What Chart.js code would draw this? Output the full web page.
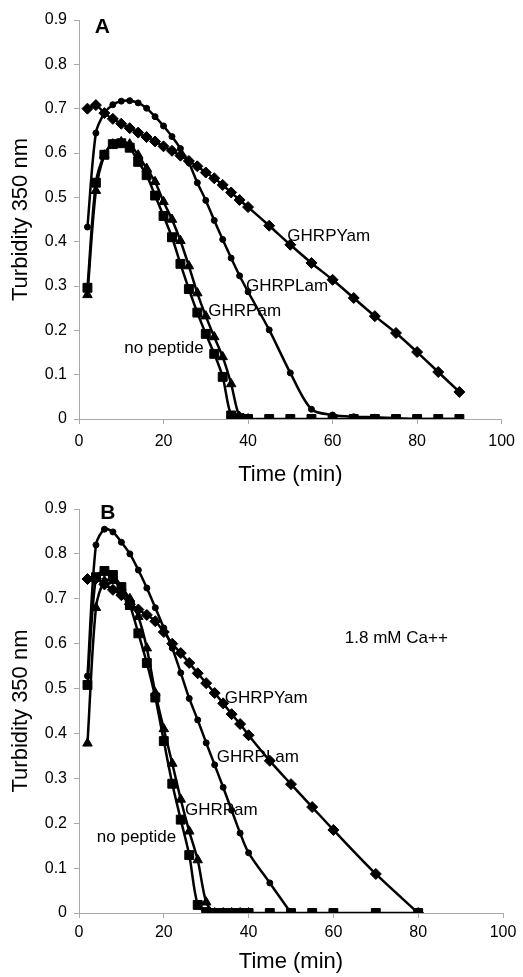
<!DOCTYPE html>
<html>
<head>
<meta charset="utf-8">
<script src="https://cdn.jsdelivr.net/npm/chart.js@4.4.1/dist/chart.umd.min.js"></script>
<style>
  body { margin: 0; background: #fff; }
  canvas { position: absolute; left: 0; }
</style>
</head>
<body>
<canvas id="chartA" width="523" height="488" style="top:0"></canvas>
<canvas id="chartB" width="523" height="489" style="top:488px"></canvas>
<script>
// tick labels
const xTicks = [0, 20, 40, 60, 80, 100];
const yTicks = [0, 0.1, 0.2, 0.3, 0.4, 0.5, 0.6, 0.7, 0.8, 0.9];

// panel A - time (min) and turbidity at 350 nm
const aYamTime = [2,4,6,8,10,12,14,16,18,20,22,24,26,28,30,32,34,36,38,40,45,50,55,60,65,70,75,80,85,90];
const aYamVal = [0.700,0.708,0.690,0.677,0.666,0.656,0.646,0.636,0.626,0.615,0.605,0.594,0.582,0.570,0.556,0.543,0.528,0.511,0.494,0.478,0.436,0.393,0.352,0.314,0.273,0.232,0.194,0.151,0.106,0.061];
const aLamTime = [2,4,6,8,10,12,14,16,18,20,22,24,26,28,30,32,34,36,38,40,45,50,55,60,65,70,75,80,85,90];
const aLamVal = [0.433,0.645,0.690,0.709,0.717,0.718,0.713,0.701,0.682,0.661,0.637,0.610,0.578,0.533,0.493,0.448,0.405,0.363,0.323,0.287,0.201,0.104,0.022,0.009,0.005,0.004,0.002,0,0,0];
const aPamTime = [2,4,6,8,10,12,14,16,18,20,22,24,26,28,30,32,34,36,38,40];
const aPamVal = [0.280,0.515,0.595,0.620,0.625,0.620,0.595,0.565,0.535,0.490,0.450,0.402,0.345,0.284,0.232,0.185,0.140,0.079,0.005,0];
const aNoneTime = [2,4,6,8,10,12,14,16,18,20,22,24,26,28,30,32,34,36,38,40,45,50,55,60,65,70,75,80,85,90];
const aNoneVal = [0.296,0.533,0.596,0.620,0.622,0.612,0.580,0.550,0.504,0.458,0.410,0.350,0.293,0.240,0.192,0.147,0.095,0.008,0.002,0,0,0,0,0,0,0,0,0,0,0];

// panel B - 1.8 mM Ca++
const bYamTime = [2,4,6,8,10,12,14,16,18,20,22,24,26,28,30,32,34,36,38,40,45,50,55,60,70,80];
const bYamVal = [0.744,0.745,0.732,0.720,0.708,0.688,0.676,0.664,0.650,0.626,0.600,0.579,0.557,0.534,0.512,0.490,0.467,0.443,0.421,0.396,0.339,0.287,0.236,0.185,0.087,0];
const bLamTime = [2,4,6,8,10,12,14,16,18,20,22,24,26,28,30,32,34,36,38,40,45,50];
const bLamVal = [0.528,0.820,0.855,0.849,0.826,0.800,0.764,0.724,0.680,0.635,0.590,0.535,0.478,0.430,0.379,0.330,0.280,0.229,0.178,0.134,0.067,0];
const bPamTime = [2,4,6,8,10,12,14,16,18,20,22,24,26,28,30,32,34,36,38,40];
const bPamVal = [0.378,0.680,0.740,0.740,0.725,0.700,0.660,0.590,0.490,0.410,0.333,0.253,0.182,0.118,0.024,0,0,0,0,0];
const bNoneTime = [2,4,6,8,10,12,14,16,18,20,22,24,26,28,30,32,34,36,38,40,45,50,55,60,70,80];
const bNoneVal = [0.508,0.748,0.762,0.753,0.726,0.686,0.623,0.557,0.480,0.383,0.288,0.208,0.129,0.018,0.002,0,0,0,0,0,0,0,0,0,0,0];

const FONT = '"Liberation Sans", Arial, Helvetica, sans-serif';

function pts(times, vals) {
    return times.map((t, i) => ({ x: t, y: vals[i] }));
}

function series(times, vals, style, radius) {
    return {
        data: pts(times, vals),
        borderColor: '#000',
        backgroundColor: '#000',
        borderWidth: 2.5,
        pointStyle: style,
        pointRadius: radius,
        pointBorderWidth: 1,
        pointBackgroundColor: '#000',
        pointBorderColor: '#000',
        tension: 0.3,
        fill: false
    };
}

// text inside the plot, placed in data units
function textPlugin(items) {
    return {
        id: 'panelText',
        afterDatasetsDraw(chart) {
            const ctx = chart.ctx;
            const x = chart.scales.x, y = chart.scales.y;
            ctx.save();
            ctx.fillStyle = '#000';
            ctx.textAlign = 'left';
            ctx.textBaseline = 'middle';
            items.forEach(it => {
                ctx.font = (it.bold ? 'bold ' : '') + it.size + 'px ' + FONT;
                ctx.fillText(it.text, x.getPixelForValue(it.t), y.getPixelForValue(it.v));
            });
            ctx.restore();
        }
    };
}

function makePanel(id, datasets, cfg) {
    new Chart(document.getElementById(id), {
        type: 'line',
        data: { datasets: datasets },
        plugins: [textPlugin(cfg.labels)],
        options: {
            responsive: false,
            animation: false,
            events: [],
            layout: { padding: { top: cfg.top, right: cfg.right, left: 0, bottom: 0 } },
            plugins: { legend: { display: false }, tooltip: { enabled: false } },
            scales: {
                x: {
                    type: 'linear',
                    min: 0, max: 100,
                    afterBuildTicks: s => { s.ticks = xTicks.map(v => ({ value: v })); },
                    afterFit: s => { s.height = cfg.xHeight; },
                    grid: { drawOnChartArea: false, tickLength: 5, color: '#aaa' },
                    border: { color: '#aaa', width: 1 },
                    ticks: { color: '#000', padding: cfg.xPad, font: { family: FONT, size: 16 } },
                    title: {
                        display: true, text: 'Time (min)', color: '#000',
                        font: { family: FONT, size: 22 },
                        padding: { top: 0, bottom: cfg.titlePad }
                    }
                },
                y: {
                    min: 0, max: 0.9,
                    afterBuildTicks: s => { s.ticks = yTicks.map(v => ({ value: v })); },
                    afterFit: s => { s.width = 79; },
                    grid: { drawOnChartArea: false, tickLength: 5, color: '#aaa' },
                    border: { color: '#aaa', width: 1 },
                    ticks: {
                        color: '#000', padding: 7,
                        font: { family: FONT, size: 16 },
                        callback: v => v === 0 ? '0' : v.toFixed(1)
                    },
                    title: {
                        display: true, text: 'Turbidity 350 nm', color: '#000',
                        font: { family: FONT, size: 22 },
                        padding: { top: 8, bottom: 0 }
                    }
                }
            }
        }
    });
}

makePanel('chartA', [
    series(aYamTime, aYamVal, 'rectRot', 5.5),
    series(aLamTime, aLamVal, 'circle', 3),
    series(aPamTime, aPamVal, 'triangle', 5.5),
    series(aNoneTime, aNoneVal, 'rect', 6.3)
], {
    top: 20, right: 16, xHeight: 69, xPad: 8, titlePad: 0,
    labels: [
        { text: 'A', t: 3.7, v: 0.883, size: 21, bold: true },
        { text: 'GHRPYam', t: 49.3, v: 0.411, size: 17 },
        { text: 'GHRPLam', t: 39.5, v: 0.300, size: 17 },
        { text: 'GHRPam', t: 30.6, v: 0.242, size: 17 },
        { text: 'no peptide', t: 10.7, v: 0.160, size: 17 }
    ]
});

makePanel('chartB', [
    series(bYamTime, bYamVal, 'rectRot', 5.5),
    series(bLamTime, bLamVal, 'circle', 3),
    series(bPamTime, bPamVal, 'triangle', 5.5),
    series(bNoneTime, bNoneVal, 'rect', 6.3)
], {
    top: 21, right: 20, xHeight: 64, xPad: 5, titlePad: 2,
    labels: [
        { text: 'B', t: 5.0, v: 0.890, size: 21, bold: true },
        { text: '1.8 mM Ca++', t: 62.7, v: 0.612, size: 17 },
        { text: 'GHRPYam', t: 34.4, v: 0.479, size: 17 },
        { text: 'GHRPLam', t: 32.5, v: 0.347, size: 17 },
        { text: 'GHRPam', t: 25.0, v: 0.229, size: 17 },
        { text: 'no peptide', t: 4.2, v: 0.169, size: 17 }
    ]
});
</script>
</body>
</html>
